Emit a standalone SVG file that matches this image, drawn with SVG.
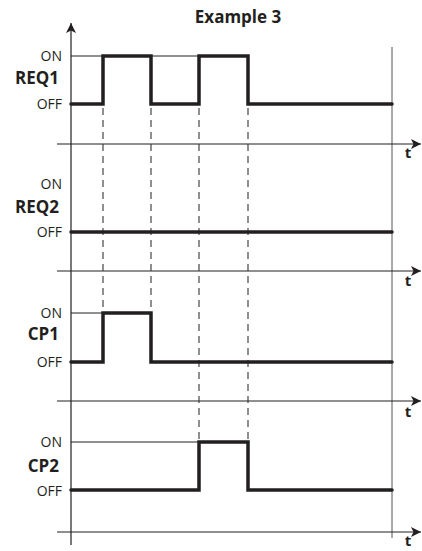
<svg xmlns="http://www.w3.org/2000/svg" width="422" height="551" viewBox="0 0 422 551">
<defs>
<style>
.lbl{font-family:"Open Sans","Noto Sans","Liberation Sans",sans-serif;font-size:14px;fill:#231f20;text-anchor:end}
.name{font-family:"Open Sans","Noto Sans","Liberation Sans",sans-serif;font-size:17px;font-weight:bold;fill:#231f20;text-anchor:end}
.t{font-family:"Open Sans","Noto Sans","Liberation Sans",sans-serif;font-size:15px;font-weight:bold;fill:#231f20;text-anchor:middle}
.title{font-family:"Open Sans","Noto Sans","Liberation Sans",sans-serif;font-size:17px;font-weight:bold;fill:#231f20;text-anchor:middle}
.axis{stroke:#231f20;stroke-width:1.2;fill:none}
.thin{stroke:#231f20;stroke-width:1;fill:none}
.edge{stroke:#555;stroke-width:1;fill:none}
.dash{stroke:#333;stroke-width:1.1;stroke-dasharray:7 5;fill:none}
.sig{stroke:#231f20;stroke-width:3.5;fill:none;stroke-linejoin:miter;stroke-linecap:round}
</style>
<marker id="arr" viewBox="0 0 10 10" refX="10" refY="5" markerWidth="10" markerHeight="10" markerUnits="userSpaceOnUse" orient="auto">
<path d="M0,0 L10,5 L0,10 L2.5,5 Z" fill="#231f20"/>
</marker>
</defs>
<rect width="422" height="551" fill="#fff"/>
<text class="title" x="238" y="23">Example 3</text>
<g id="connectors">
<line class="axis" x1="71" y1="545" x2="71" y2="23" marker-end="url(#arr)"/>
<line class="edge" x1="392" y1="47" x2="392" y2="538"/>
<line class="axis" x1="57" y1="144" x2="421" y2="144" marker-end="url(#arr)"/>
<line class="axis" x1="57" y1="271" x2="421" y2="271" marker-end="url(#arr)"/>
<line class="axis" x1="57" y1="401" x2="421" y2="401" marker-end="url(#arr)"/>
<line class="axis" x1="57" y1="532" x2="421" y2="532" marker-end="url(#arr)"/>
<line class="dash" x1="103" y1="108" x2="103" y2="311"/>
<line class="dash" x1="151" y1="108" x2="151" y2="311"/>
<line class="dash" x1="199" y1="108" x2="199" y2="440"/>
<line class="dash" x1="248" y1="108" x2="248" y2="440"/>
</g>
<g id="REQ1">
<text class="lbl" x="62" y="61">ON</text>
<text class="name" x="59" y="84">REQ1</text>
<text class="lbl" x="62" y="109">OFF</text>
<line class="thin" x1="71" y1="56" x2="103" y2="56"/>
<line class="thin" x1="151" y1="56" x2="199" y2="56"/>
<path class="sig" d="M71,104 H103 V56 H151 V104 H199 V56 H248 V104 H392"/>
<text class="t" x="408" y="158">t</text>
</g>
<g id="REQ2">
<text class="lbl" x="62" y="189">ON</text>
<text class="name" x="59" y="213">REQ2</text>
<text class="lbl" x="62" y="237">OFF</text>
<path class="sig" d="M71,232 H392"/>
<text class="t" x="408" y="286">t</text>
</g>
<g id="CP1">
<text class="lbl" x="62" y="318">ON</text>
<text class="name" x="59" y="340">CP1</text>
<text class="lbl" x="62" y="367">OFF</text>
<line class="thin" x1="71" y1="313" x2="103" y2="313"/>
<path class="sig" d="M71,362 H103 V313 H151 V362 H392"/>
<text class="t" x="408" y="417">t</text>
</g>
<g id="CP2">
<text class="lbl" x="62" y="447">ON</text>
<text class="name" x="59" y="472">CP2</text>
<text class="lbl" x="62" y="496">OFF</text>
<line class="thin" x1="71" y1="442" x2="199" y2="442"/>
<path class="sig" d="M71,490 H199 V442 H248 V490 H392"/>
<text class="t" x="408" y="546">t</text>
</g>
</svg>
